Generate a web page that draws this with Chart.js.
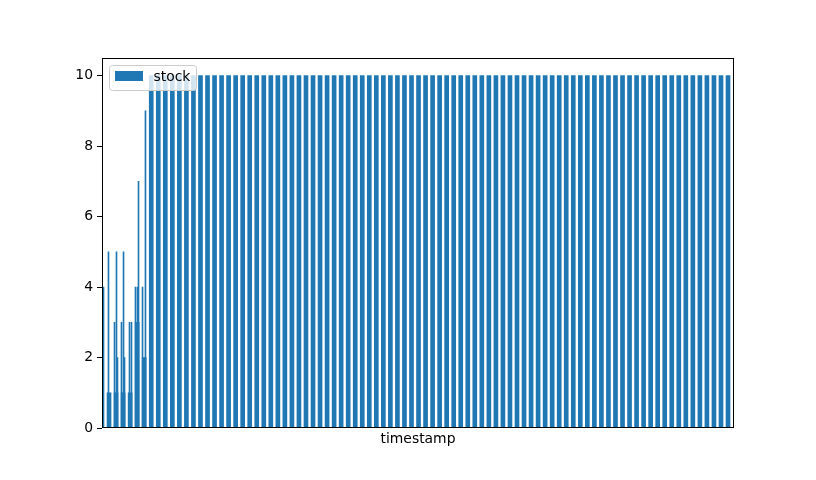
<!DOCTYPE html>
<html>
<head>
<meta charset="utf-8">
<script src="https://cdn.jsdelivr.net/npm/chart.js@4"></script>
<style>
  html, body { margin: 0; padding: 0; background: #fff; }
  #wrap { width: 816px; height: 480px; }
</style>
</head>
<body>
<div id="wrap"><canvas id="myChart" width="816" height="480"></canvas></div>
<script>
// setup
// one reading per day (day index since first reading)
const days = Array.from({ length: 90 }, (_, i) => i);
const stock = [
  4, 1, 1, 1, 1, 3, 2, 10, 10, 10,
  10, 10, 10, 10, 10, 10, 10, 10, 10, 10,
  10, 10, 10, 10, 10, 10, 10, 10, 10, 10,
  10, 10, 10, 10, 10, 10, 10, 10, 10, 10,
  10, 10, 10, 10, 10, 10, 10, 10, 10, 10,
  10, 10, 10, 10, 10, 10, 10, 10, 10, 10,
  10, 10, 10, 10, 10, 10, 10, 10, 10, 10,
  10, 10, 10, 10, 10, 10, 10, 10, 10, 10,
  10, 10, 10, 10, 10, 10, 10, 10, 10, 10
];
// extra readings taken between the daily ones in the first week
const extraDays = [0.92, 1.78, 2.06, 2.2, 2.77, 3.06, 3.2, 3.91, 4.19, 4.76, 5.05, 5.19, 5.76, 6.18];
const extraStock = [5, 3, 5, 2, 3, 5, 2, 3, 3, 4, 4, 7, 4, 9];
const yTicks = [0, 2, 4, 6, 8, 10];

const blue = '#1f77b4';
const font = { family: 'DejaVu Sans', size: 13.9 };

// matplotlib-like frame + legend inside the axes
const framePlugin = {
  id: 'framePlugin',
  afterDatasetsDraw(chart) {
    const { ctx, chartArea: a } = chart;
    const ds = chart.data.datasets[0];
    ctx.save();
    // legend
    const lx = a.left + 7.5, ly = a.top + 7.5, lw = 87, lh = 25;
    ctx.beginPath();
    ctx.roundRect(lx, ly, lw, lh, 3);
    ctx.fillStyle = 'rgba(255,255,255,0.8)';
    ctx.fill();
    ctx.strokeStyle = '#cccccc';
    ctx.lineWidth = 1;
    ctx.stroke();
    ctx.fillStyle = ds.backgroundColor;
    ctx.fillRect(lx + 5.5, ly + 5.5, 28, 10);
    ctx.fillStyle = '#000';
    ctx.font = font.size + 'px "DejaVu Sans"';
    ctx.textBaseline = 'middle';
    ctx.fillText(ds.label, lx + 44, ly + 11.5);
    // spines
    ctx.strokeStyle = '#000';
    ctx.lineWidth = 1;
    ctx.strokeRect(a.left + 0.5, a.top + 0.5, a.right - a.left - 1, a.bottom - a.top - 1);
    ctx.restore();
  }
};

// config
const config = {
  type: 'bar',
  data: {
    datasets: [{
      label: 'stock',
      data: days.map((d, i) => ({ x: d, y: stock[i] })),
      backgroundColor: blue,
      barThickness: 4,
      clip: 0
    }, {
      label: 'stock (extra)',
      data: extraDays.map((d, i) => ({ x: d, y: extraStock[i] })),
      backgroundColor: blue,
      barThickness: 1,
      clip: 0
    }]
  },
  options: {
    responsive: false,
    animation: false,
    grouped: false,
    layout: { padding: { left: 0, top: 58, right: 82, bottom: 0 } },
    plugins: {
      legend: { display: false },
      tooltip: { enabled: false }
    },
    scales: {
      x: {
        type: 'linear',
        min: 0,
        max: 89.85,
        offset: false,
        grid: { display: false },
        border: { display: false },
        ticks: { display: false },
        title: {
          display: true,
          text: 'timestamp',
          color: '#000',
          font: font,
          padding: { top: 2, bottom: 32 }
        },
        afterFit: s => { s.height = 52; }
      },
      y: {
        min: 0,
        max: 10.5,
        grid: { drawOnChartArea: false, tickLength: 5, tickColor: '#000' },
        border: { display: false },
        ticks: { color: '#000', font: font, padding: 4 },
        afterBuildTicks: s => { s.ticks = yTicks.map(v => ({ value: v })); },
        afterFit: s => { s.width = 102; }
      }
    }
  },
  plugins: [framePlugin]
};

// render init block
const myChart = new Chart(document.getElementById('myChart'), config);
</script>
</body>
</html>
